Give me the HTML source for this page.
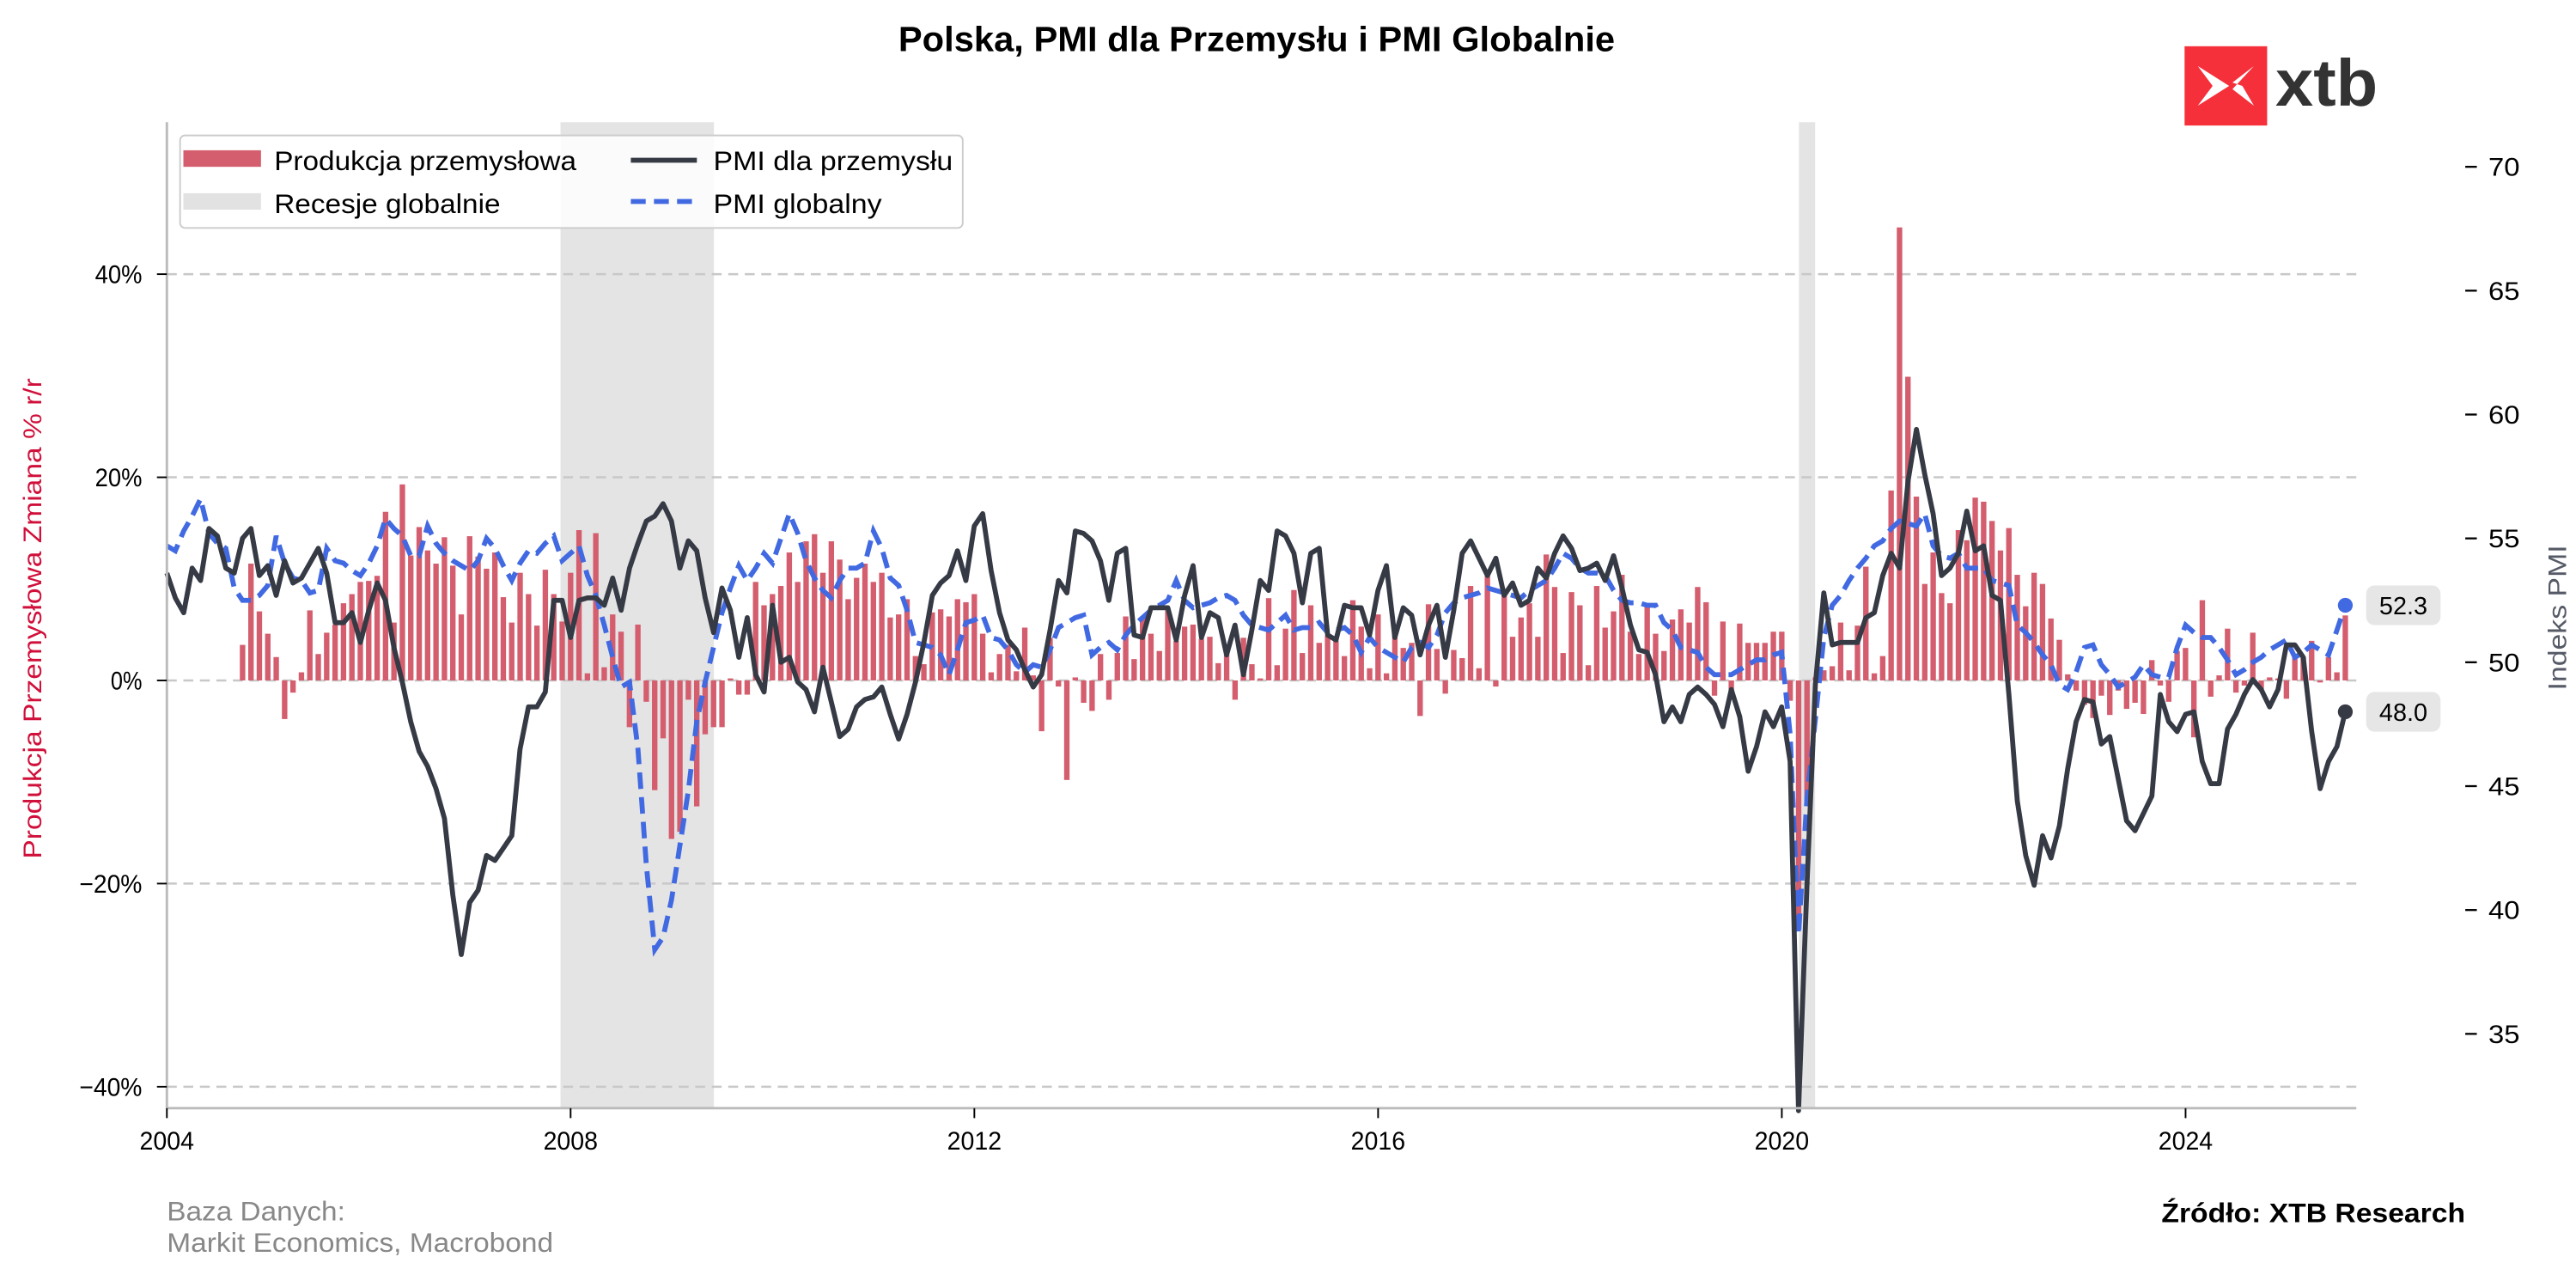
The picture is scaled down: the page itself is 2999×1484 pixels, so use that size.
<!DOCTYPE html>
<html><head><meta charset="utf-8"><style>
html,body{margin:0;padding:0;background:#fff;}
svg{display:block;font-family:"Liberation Sans",Arial,sans-serif;}
</style></head><body>
<svg id="chart" width="2999" height="1484" viewBox="0 0 1560 772" xmlns="http://www.w3.org/2000/svg">
<text x="544" y="31" font-size="21" font-weight="bold" fill="#000" textLength="434" lengthAdjust="spacingAndGlyphs">Polska, PMI dla Przemysłu i PMI Globalnie</text>
<g>
<rect x="1323" y="28" width="50" height="48" fill="#f6303a"/>
<path d="M1331 40 L1350 52 L1331 64 L1340 52 Z M1365 40 L1352 50 L1358 52 L1365 64 L1352 54 Z" fill="#fff"/>
<text x="1378" y="64" font-size="40" font-weight="bold" fill="#333" textLength="62" lengthAdjust="spacingAndGlyphs">xtb</text>
</g>
<g id="recessions"></g>
<g id="grid"></g>
<g id="bars"></g>
<g id="lines"></g>
<g id="axes"></g>
<g>
<rect x="109" y="82" width="474" height="56" rx="3" fill="#fff" fill-opacity="0.85" stroke="#ccc" stroke-width="1"/>
<rect x="111" y="91" width="47" height="10" fill="#d45d6e"/>
<text x="166" y="103" font-size="16.5" textLength="183" lengthAdjust="spacingAndGlyphs">Produkcja przemysłowa</text>
<rect x="111" y="117" width="47" height="10" fill="#e2e2e2"/>
<text x="166" y="129" font-size="16.5" textLength="137" lengthAdjust="spacingAndGlyphs">Recesje globalnie</text>
<line x1="382" y1="97" x2="422" y2="97" stroke="#363a45" stroke-width="3"/>
<text x="432" y="103" font-size="16.5" textLength="145" lengthAdjust="spacingAndGlyphs">PMI dla przemysłu</text>
<line x1="382" y1="122" x2="422" y2="122" stroke="#4169e1" stroke-width="3" stroke-dasharray="9,5"/>
<text x="432" y="129" font-size="16.5" textLength="102" lengthAdjust="spacingAndGlyphs">PMI globalny</text>
</g>
<text transform="translate(25,520) rotate(-90)" font-size="15.5" fill="#d0103a" textLength="291" lengthAdjust="spacingAndGlyphs">Produkcja Przemysłowa Zmiana % r/r</text>
<text transform="translate(1554,418) rotate(-90)" font-size="15.5" fill="#555a66" textLength="88" lengthAdjust="spacingAndGlyphs">Indeks PMI</text>
<text x="101" y="739" font-size="16.5" fill="#888" textLength="108" lengthAdjust="spacingAndGlyphs">Baza Danych:</text>
<text x="101" y="758" font-size="16.5" fill="#888" textLength="234" lengthAdjust="spacingAndGlyphs">Markit Economics, Macrobond</text>
<text x="1309" y="740" font-size="16.5" font-weight="bold" fill="#000" textLength="184" lengthAdjust="spacingAndGlyphs">Źródło: XTB Research</text>
</svg>
<script>
const pmiPoland = [53.6,52.6,52.0,53.8,53.3,55.4,55.1,53.8,53.6,55.0,55.4,53.5,
53.9,52.7,54.1,53.2,53.4,54.0,54.6,53.6,51.6,51.6,52.0,50.8,
52.1,53.2,52.5,50.6,49.2,47.6,46.4,45.8,44.9,43.7,40.6,38.2,
40.3,40.8,42.2,42.0,42.5,43.0,46.5,48.2,48.2,48.8,52.5,52.5,
51.0,52.5,52.6,52.6,52.3,53.4,52.1,53.8,54.8,55.7,55.9,56.4,
55.7,53.8,54.9,54.5,52.6,51.2,53.0,52.1,50.2,51.8,49.5,48.8,
52.3,50.0,50.2,49.2,48.9,48.0,49.8,48.4,47.0,47.3,48.2,48.5,
48.6,49.0,47.9,46.9,47.9,49.2,50.8,52.7,53.2,53.5,54.5,53.3,
55.5,56.0,53.7,52.0,50.9,50.5,49.7,49.0,49.5,51.3,53.3,52.8,
55.3,55.2,54.9,54.1,52.5,54.4,54.6,51.1,51.0,52.2,52.2,52.2,
50.9,52.7,53.9,51.0,52.0,51.8,50.3,51.5,49.5,51.3,53.3,52.9,
55.3,55.1,54.4,52.4,54.4,54.6,51.1,50.9,52.3,52.2,52.2,51.1,
52.9,53.9,51.0,52.2,51.9,50.3,51.5,52.3,50.2,52.1,54.4,54.9,
54.2,53.5,54.2,52.7,53.2,52.3,52.5,53.8,53.4,54.4,55.1,54.6,
53.7,53.8,54.0,53.3,54.3,53.0,51.5,50.5,50.4,49.5,47.6,48.2,
47.6,48.7,49.0,48.7,48.3,47.4,48.9,47.8,45.6,46.6,48.0,47.4,
48.2,46.0,31.9,41.0,49.1,52.8,50.7,50.8,50.8,50.8,51.8,52.0,
53.5,54.4,53.8,57.3,59.4,57.6,56.0,53.5,53.8,54.4,56.1,54.5,
54.7,52.7,52.5,48.7,44.4,42.2,41.0,43.0,42.1,43.4,45.7,47.6,
48.5,48.4,46.7,47.0,45.3,43.6,43.2,43.9,44.6,48.7,47.6,47.2,
47.9,48.0,46.0,45.1,45.1,47.3,47.9,48.7,49.3,48.9,48.2,48.9,
50.7,50.7,50.2,47.2,44.9,46.0,46.6,48.0];
const pmiGlobal = [54.7,54.5,55.3,55.9,56.6,55.2,54.8,54.6,53.0,52.5,52.5,52.7,
53.1,55.1,54.0,53.4,53.3,52.8,52.9,54.6,54.1,54.0,53.7,53.5,
54.0,54.7,55.8,55.4,55.1,54.3,54.3,55.5,54.8,54.4,54.1,53.9,
53.7,54.1,55.0,54.6,53.9,53.3,54.0,54.5,54.4,54.8,55.1,54.1,
54.4,54.7,53.5,52.7,51.5,50.2,49.0,49.2,46.5,41.8,38.4,38.9,
40.4,42.6,44.8,47.6,49.2,50.6,52.0,53.0,53.9,53.3,53.8,54.4,
54.0,55.0,56.0,55.2,54.1,53.4,52.9,52.6,53.3,53.8,53.8,54.0,
55.3,54.6,53.4,53.1,52.1,50.8,50.7,50.6,50.3,49.5,50.5,51.6,
51.7,51.9,51.0,50.9,50.5,49.9,49.6,49.9,49.8,50.5,51.4,51.6,
51.8,51.9,50.3,50.6,50.8,50.5,51.1,51.5,51.8,52.1,52.3,52.5,
53.3,52.5,52.2,52.3,52.4,52.6,52.7,52.5,51.9,51.5,51.4,51.3,
51.6,51.9,51.3,51.4,51.4,51.6,51.2,51.3,51.4,51.1,50.4,51.0,
50.6,50.4,50.2,50.0,50.6,50.8,50.6,51.1,52.0,52.4,52.6,52.7,
52.8,53.0,52.9,52.8,52.7,52.6,52.9,53.1,53.3,53.8,54.4,54.2,
53.8,53.6,53.6,53.5,52.9,52.5,52.4,52.4,52.3,52.3,51.6,51.3,
50.6,50.5,50.4,49.8,49.5,49.5,49.5,49.7,49.9,50.1,50.1,50.3,
50.4,47.1,39.0,44.5,47.7,51.0,52.3,52.7,53.3,53.8,54.2,54.7,
54.9,55.4,55.7,55.6,55.5,56.0,54.7,54.3,54.2,54.4,53.8,53.8,
53.8,53.3,53.2,53.1,51.5,51.2,50.8,50.3,49.9,49.1,48.9,49.6,
50.6,50.7,49.9,49.5,49.0,49.2,49.4,49.9,49.5,49.4,49.4,50.6,
51.5,51.2,51.0,51.0,50.6,50.1,49.5,49.7,50.0,50.2,50.5,50.7,
50.9,50.2,50.4,50.7,50.5,50.3,51.3,52.3];
const productionYoY = [null,null,null,null,null,null,null,null,null,3.5,11.5,6.8,
4.6,2.3,-3.8,-1.2,0.8,6.9,2.6,4.7,5.5,7.6,8.5,9.7,
9.8,10.3,16.6,5.7,19.3,12.3,15.1,12.8,11.5,14.1,11.3,6.5,
14.2,12.2,11.0,12.6,8.2,5.7,10.6,8.5,5.4,10.9,8.5,5.8,
10.6,14.8,0.7,14.5,1.3,6.5,4.8,-4.6,5.5,-2.1,-10.8,-5.7,
-15.6,-14.9,-1.9,-12.4,-5.3,-4.6,-4.6,0.2,-1.4,-1.4,9.7,7.4,
8.5,9.3,12.6,9.7,13.7,14.4,10.6,13.7,11.9,8.0,10.1,11.5,
9.7,10.6,6.2,6.5,8.0,2.4,1.6,6.7,7.0,6.3,8.0,7.7,
8.5,4.6,0.8,2.6,3.5,0.9,5.2,0.5,-5.0,4.2,-0.6,-9.8,
0.3,-2.2,-3.0,2.6,-1.9,2.7,6.3,2.1,6.3,4.6,2.9,6.9,
3.9,5.3,5.5,4.1,4.3,1.7,2.6,-1.9,4.2,1.6,0.2,8.1,
1.5,5.1,8.9,2.7,7.4,3.7,4.4,3.9,2.4,7.9,5.3,1.2,
6.5,0.7,4.9,3.2,3.7,-3.5,7.5,3.1,-1.3,3.0,2.2,9.3,
1.2,10.3,-0.6,8.5,4.3,6.2,7.6,4.3,12.4,9.2,2.7,8.7,
7.4,1.5,9.3,5.2,6.8,10.4,4.8,2.6,7.4,4.6,2.9,6.0,
7.0,5.7,9.2,7.7,-1.5,5.8,-1.0,5.6,3.7,3.7,3.7,4.8,
4.8,-2.0,-24.4,-12.3,0.3,1.0,1.4,5.7,1.0,5.4,11.2,0.7,
2.4,18.7,44.6,29.9,18.1,9.5,12.6,8.6,7.6,14.8,13.8,18.0,
17.6,15.7,12.8,15.0,10.4,7.3,10.6,9.5,6.1,4.0,0.6,-1.0,
-2.4,-3.7,-1.5,-3.4,-1.0,-2.8,-2.2,-3.3,2.0,-0.5,-2.1,2.9,
3.2,-5.6,7.9,-1.6,0.5,5.1,-1.2,-0.5,4.7,-0.9,0.3,0.2,
-1.8,2.3,2.3,3.9,-0.2,2.3,0.8,6.4];
const recessionStarts = [2007.9, 2020.17];
const recessionEnds = [2009.42, 2020.33];
const xTickYears = [2004, 2008, 2012, 2016, 2020, 2024];
const leftTicks = [40, 20, 0, -20, -40];
const rightTicks = [70, 65, 60, 55, 50, 45, 40, 35];

const NS = "http://www.w3.org/2000/svg";
const X0 = 101, X1 = 1427, YT = 74, YB = 671;
const xYear = y => X0 + (y - 2004) * 61.13;
const xMonth = m => X0 + m * 5.094;
const yLeft = v => 412 - v * 6.15;
const yRight = v => 401 - (v - 50) * 15;
function mk(tag, attrs, parent) {
  const e = document.createElementNS(NS, tag);
  for (const k in attrs) e.setAttribute(k, attrs[k]);
  parent.appendChild(e);
  return e;
}
const gRec = document.getElementById('recessions');
recessionStarts.forEach((s, i) => {
  const r = mk('rect', {x: xYear(s), y: YT, width: xYear(recessionEnds[i]) - xYear(s), height: YB - YT, fill: '#e4e4e4'}, gRec);
  
  
});
const gGrid = document.getElementById('grid');
leftTicks.forEach(v => {
  const l = mk('line', {x1: X0, x2: X1, y1: yLeft(v), y2: yLeft(v), stroke: '#c8c8c8', 'stroke-width': 1.3, 'stroke-dasharray': '6,4'}, gGrid);
  
  
});
const gBars = document.getElementById('bars');
productionYoY.forEach((v, m) => {
  if (v === null) return;
  const y0 = yLeft(0), y1 = yLeft(v);
  const b = mk('rect', {x: xMonth(m) - 1.65, y: Math.min(y0, y1), width: 3.3, height: Math.max(0.6, Math.abs(y1 - y0)), fill: '#d45d6e'}, gBars);
  
  
});
const gLines = document.getElementById('lines');
function path(arr) { return arr.map((v, i) => (i ? 'L' : 'M') + xMonth(i).toFixed(1) + ' ' + yRight(Math.max(31.9, v)).toFixed(1)).join(' '); }
const pg = mk('path', {d: path(pmiGlobal), fill: 'none', stroke: '#4169e1', 'stroke-width': 3, 'stroke-dasharray': '10,5'}, gLines);


const pp = mk('path', {d: path(pmiPoland), fill: 'none', stroke: '#363a45', 'stroke-width': 3, 'stroke-linejoin': 'round'}, gLines);


[[pmiGlobal, '#4169e1', 'pmi-global-end-label'], [pmiPoland, '#363a45', 'pmi-poland-end-label']].forEach(([arr, col, nm]) => {
  const last = arr.length - 1, v = arr[last];
  const d = mk('circle', {cx: xMonth(last), cy: yRight(v), r: 4.5, fill: col}, gLines);
  
  
  const g = mk('g', {}, gLines);
  
  
  mk('rect', {x: 1433, y: yRight(v) - 12, width: 45, height: 24, rx: 5, fill: '#e6e6e6'}, g);
  const t = mk('text', {x: 1455.5, y: yRight(v) + 5.5, 'text-anchor': 'middle', 'font-size': 15, fill: '#000'}, g);
  t.textContent = v.toFixed(1);
});
const gAx = document.getElementById('axes');
const ls = mk('line', {x1: X0, x2: X0, y1: YT, y2: YB, stroke: '#bbb', 'stroke-width': 1.5}, gAx);


const bs = mk('line', {x1: X0, x2: X1, y1: YB, y2: YB, stroke: '#bbb', 'stroke-width': 1.5}, gAx);


xTickYears.forEach(y => {
  mk('line', {x1: xYear(y), x2: xYear(y), y1: YB, y2: YB + 6, stroke: '#000', 'stroke-width': 1}, gAx);
  const t = mk('text', {x: xYear(y) - 16.5, y: YB + 25, 'font-size': 15.5, textLength: 33, lengthAdjust: 'spacingAndGlyphs'}, gAx);
  
  
  t.textContent = y;
});
leftTicks.forEach(v => {
  mk('line', {x1: X0 - 6, x2: X0, y1: yLeft(v), y2: yLeft(v), stroke: '#000', 'stroke-width': 1}, gAx);
  const s = (v < 0 ? '\u2212' + (-v) : v) + '%';
  const w = s.length * 9.5;
  const t = mk('text', {x: X0 - 15 - w, y: yLeft(v) + 5.5, 'font-size': 15.5, textLength: w, lengthAdjust: 'spacingAndGlyphs'}, gAx);
  
  
  t.textContent = s;
});
rightTicks.forEach(v => {
  mk('line', {x1: 1493, x2: 1500, y1: yRight(v), y2: yRight(v), stroke: '#000', 'stroke-width': 1.2}, gAx);
  const t = mk('text', {x: 1507, y: yRight(v) + 5.5, 'font-size': 15.5, textLength: 19, lengthAdjust: 'spacingAndGlyphs'}, gAx);
  
  
  t.textContent = v;
});
</script>
</body></html>
